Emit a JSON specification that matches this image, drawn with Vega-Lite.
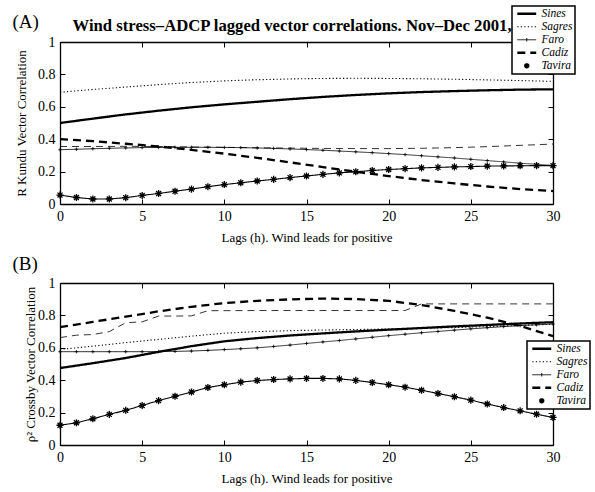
{
  "$schema": "https://vega.github.io/schema/vega-lite/v6.json",
  "padding": {"left": 12, "top": 5, "right": 2, "bottom": 2},
  "config": {
    "font": "Liberation Serif",
    "view": {"stroke": null},
    "axis": {
      "grid": false, "domainColor": "black", "domainWidth": 1.3,
      "tickColor": "black", "tickWidth": 1, "tickSize": -5,
      "labelFont": "Liberation Serif", "labelFontSize": 14, "labelColor": "black",
      "labelPadding": 10, "labelFlush": false, "labelOverlap": false,
      "titleFont": "Liberation Serif", "titleFontSize": 13, "titleFontWeight": "normal", "titleColor": "black"
    },
    "concat": {"spacing": 10}
  },
  "datasets": {
    "kundu": [
      {"station": "Sines", "lag": 0, "r": 0.500}, {"station": "Sines", "lag": 2, "r": 0.527}, {"station": "Sines", "lag": 4, "r": 0.553}, {"station": "Sines", "lag": 6, "r": 0.576},
      {"station": "Sines", "lag": 8, "r": 0.597}, {"station": "Sines", "lag": 10, "r": 0.615}, {"station": "Sines", "lag": 12, "r": 0.631}, {"station": "Sines", "lag": 14, "r": 0.647},
      {"station": "Sines", "lag": 16, "r": 0.661}, {"station": "Sines", "lag": 18, "r": 0.673}, {"station": "Sines", "lag": 20, "r": 0.683}, {"station": "Sines", "lag": 22, "r": 0.691},
      {"station": "Sines", "lag": 24, "r": 0.697}, {"station": "Sines", "lag": 26, "r": 0.702}, {"station": "Sines", "lag": 28, "r": 0.706}, {"station": "Sines", "lag": 30, "r": 0.708},

      {"station": "Sagres", "lag": 0, "r": 0.690}, {"station": "Sagres", "lag": 2, "r": 0.707}, {"station": "Sagres", "lag": 4, "r": 0.722}, {"station": "Sagres", "lag": 6, "r": 0.737},
      {"station": "Sagres", "lag": 8, "r": 0.750}, {"station": "Sagres", "lag": 10, "r": 0.760}, {"station": "Sagres", "lag": 12, "r": 0.767}, {"station": "Sagres", "lag": 14, "r": 0.772},
      {"station": "Sagres", "lag": 16, "r": 0.775}, {"station": "Sagres", "lag": 18, "r": 0.776}, {"station": "Sagres", "lag": 20, "r": 0.775}, {"station": "Sagres", "lag": 22, "r": 0.773},
      {"station": "Sagres", "lag": 24, "r": 0.770}, {"station": "Sagres", "lag": 26, "r": 0.766}, {"station": "Sagres", "lag": 28, "r": 0.762}, {"station": "Sagres", "lag": 30, "r": 0.757},

      {"station": "Faro", "lag": 0, "r": 0.335}, {"station": "Faro", "lag": 1, "r": 0.338}, {"station": "Faro", "lag": 2, "r": 0.341}, {"station": "Faro", "lag": 3, "r": 0.344},
      {"station": "Faro", "lag": 4, "r": 0.346}, {"station": "Faro", "lag": 5, "r": 0.348}, {"station": "Faro", "lag": 6, "r": 0.349}, {"station": "Faro", "lag": 7, "r": 0.350},
      {"station": "Faro", "lag": 8, "r": 0.350}, {"station": "Faro", "lag": 9, "r": 0.350}, {"station": "Faro", "lag": 10, "r": 0.349}, {"station": "Faro", "lag": 11, "r": 0.348},
      {"station": "Faro", "lag": 12, "r": 0.346}, {"station": "Faro", "lag": 13, "r": 0.343}, {"station": "Faro", "lag": 14, "r": 0.340}, {"station": "Faro", "lag": 15, "r": 0.336},
      {"station": "Faro", "lag": 16, "r": 0.332}, {"station": "Faro", "lag": 17, "r": 0.327}, {"station": "Faro", "lag": 18, "r": 0.322}, {"station": "Faro", "lag": 19, "r": 0.317},
      {"station": "Faro", "lag": 20, "r": 0.311}, {"station": "Faro", "lag": 21, "r": 0.305}, {"station": "Faro", "lag": 22, "r": 0.298}, {"station": "Faro", "lag": 23, "r": 0.291},
      {"station": "Faro", "lag": 24, "r": 0.284}, {"station": "Faro", "lag": 25, "r": 0.276}, {"station": "Faro", "lag": 26, "r": 0.268}, {"station": "Faro", "lag": 27, "r": 0.260},
      {"station": "Faro", "lag": 28, "r": 0.252}, {"station": "Faro", "lag": 29, "r": 0.245}, {"station": "Faro", "lag": 30, "r": 0.238},

      {"station": "Cadiz", "lag": 0, "r": 0.400}, {"station": "Cadiz", "lag": 2, "r": 0.388}, {"station": "Cadiz", "lag": 4, "r": 0.372}, {"station": "Cadiz", "lag": 6, "r": 0.355},
      {"station": "Cadiz", "lag": 8, "r": 0.334}, {"station": "Cadiz", "lag": 10, "r": 0.311}, {"station": "Cadiz", "lag": 12, "r": 0.285}, {"station": "Cadiz", "lag": 14, "r": 0.257},
      {"station": "Cadiz", "lag": 16, "r": 0.228}, {"station": "Cadiz", "lag": 18, "r": 0.199}, {"station": "Cadiz", "lag": 20, "r": 0.172}, {"station": "Cadiz", "lag": 22, "r": 0.148},
      {"station": "Cadiz", "lag": 24, "r": 0.127}, {"station": "Cadiz", "lag": 26, "r": 0.108}, {"station": "Cadiz", "lag": 28, "r": 0.092}, {"station": "Cadiz", "lag": 30, "r": 0.080},

      {"station": "Tavira", "lag": 0, "r": 0.055}, {"station": "Tavira", "lag": 1, "r": 0.040}, {"station": "Tavira", "lag": 2, "r": 0.031}, {"station": "Tavira", "lag": 3, "r": 0.031},
      {"station": "Tavira", "lag": 4, "r": 0.039}, {"station": "Tavira", "lag": 5, "r": 0.053}, {"station": "Tavira", "lag": 6, "r": 0.065}, {"station": "Tavira", "lag": 7, "r": 0.079},
      {"station": "Tavira", "lag": 8, "r": 0.092}, {"station": "Tavira", "lag": 9, "r": 0.107}, {"station": "Tavira", "lag": 10, "r": 0.120}, {"station": "Tavira", "lag": 11, "r": 0.131},
      {"station": "Tavira", "lag": 12, "r": 0.142}, {"station": "Tavira", "lag": 13, "r": 0.152}, {"station": "Tavira", "lag": 14, "r": 0.163}, {"station": "Tavira", "lag": 15, "r": 0.173},
      {"station": "Tavira", "lag": 16, "r": 0.183}, {"station": "Tavira", "lag": 17, "r": 0.192}, {"station": "Tavira", "lag": 18, "r": 0.199}, {"station": "Tavira", "lag": 19, "r": 0.207},
      {"station": "Tavira", "lag": 20, "r": 0.213}, {"station": "Tavira", "lag": 21, "r": 0.218}, {"station": "Tavira", "lag": 22, "r": 0.223}, {"station": "Tavira", "lag": 23, "r": 0.226},
      {"station": "Tavira", "lag": 24, "r": 0.229}, {"station": "Tavira", "lag": 25, "r": 0.231}, {"station": "Tavira", "lag": 26, "r": 0.234}, {"station": "Tavira", "lag": 27, "r": 0.235},
      {"station": "Tavira", "lag": 28, "r": 0.236}, {"station": "Tavira", "lag": 29, "r": 0.237}, {"station": "Tavira", "lag": 30, "r": 0.237},

      {"station": "unlabelled", "lag": 0, "r": 0.355}, {"station": "unlabelled", "lag": 2, "r": 0.355}, {"station": "unlabelled", "lag": 4, "r": 0.356}, {"station": "unlabelled", "lag": 6, "r": 0.355},
      {"station": "unlabelled", "lag": 8, "r": 0.352}, {"station": "unlabelled", "lag": 10, "r": 0.350}, {"station": "unlabelled", "lag": 12, "r": 0.347}, {"station": "unlabelled", "lag": 14, "r": 0.345},
      {"station": "unlabelled", "lag": 16, "r": 0.343}, {"station": "unlabelled", "lag": 18, "r": 0.342}, {"station": "unlabelled", "lag": 20, "r": 0.342}, {"station": "unlabelled", "lag": 22, "r": 0.344},
      {"station": "unlabelled", "lag": 24, "r": 0.348}, {"station": "unlabelled", "lag": 26, "r": 0.354}, {"station": "unlabelled", "lag": 28, "r": 0.362}, {"station": "unlabelled", "lag": 30, "r": 0.370}
    ],
    "crossby": [
      {"station": "Sines", "lag": 0, "r": 0.475}, {"station": "Sines", "lag": 2, "r": 0.505}, {"station": "Sines", "lag": 4, "r": 0.537}, {"station": "Sines", "lag": 6, "r": 0.575},
      {"station": "Sines", "lag": 8, "r": 0.610}, {"station": "Sines", "lag": 10, "r": 0.640}, {"station": "Sines", "lag": 12, "r": 0.660}, {"station": "Sines", "lag": 14, "r": 0.676},
      {"station": "Sines", "lag": 16, "r": 0.689}, {"station": "Sines", "lag": 18, "r": 0.701}, {"station": "Sines", "lag": 20, "r": 0.712}, {"station": "Sines", "lag": 22, "r": 0.722},
      {"station": "Sines", "lag": 24, "r": 0.732}, {"station": "Sines", "lag": 26, "r": 0.741}, {"station": "Sines", "lag": 28, "r": 0.750}, {"station": "Sines", "lag": 30, "r": 0.758},

      {"station": "Sagres", "lag": 0, "r": 0.590}, {"station": "Sagres", "lag": 2, "r": 0.610}, {"station": "Sagres", "lag": 4, "r": 0.632}, {"station": "Sagres", "lag": 6, "r": 0.652},
      {"station": "Sagres", "lag": 8, "r": 0.672}, {"station": "Sagres", "lag": 10, "r": 0.690}, {"station": "Sagres", "lag": 12, "r": 0.700}, {"station": "Sagres", "lag": 14, "r": 0.706},
      {"station": "Sagres", "lag": 16, "r": 0.710}, {"station": "Sagres", "lag": 18, "r": 0.713}, {"station": "Sagres", "lag": 20, "r": 0.716}, {"station": "Sagres", "lag": 22, "r": 0.720},
      {"station": "Sagres", "lag": 24, "r": 0.725}, {"station": "Sagres", "lag": 26, "r": 0.731}, {"station": "Sagres", "lag": 28, "r": 0.738}, {"station": "Sagres", "lag": 30, "r": 0.745},

      {"station": "Faro", "lag": 0, "r": 0.576}, {"station": "Faro", "lag": 1, "r": 0.576}, {"station": "Faro", "lag": 2, "r": 0.576}, {"station": "Faro", "lag": 3, "r": 0.576},
      {"station": "Faro", "lag": 4, "r": 0.576}, {"station": "Faro", "lag": 5, "r": 0.576}, {"station": "Faro", "lag": 6, "r": 0.577}, {"station": "Faro", "lag": 7, "r": 0.578},
      {"station": "Faro", "lag": 8, "r": 0.580}, {"station": "Faro", "lag": 9, "r": 0.584}, {"station": "Faro", "lag": 10, "r": 0.589}, {"station": "Faro", "lag": 11, "r": 0.594},
      {"station": "Faro", "lag": 12, "r": 0.600}, {"station": "Faro", "lag": 13, "r": 0.608}, {"station": "Faro", "lag": 14, "r": 0.617}, {"station": "Faro", "lag": 15, "r": 0.627},
      {"station": "Faro", "lag": 16, "r": 0.636}, {"station": "Faro", "lag": 17, "r": 0.645}, {"station": "Faro", "lag": 18, "r": 0.655}, {"station": "Faro", "lag": 19, "r": 0.665},
      {"station": "Faro", "lag": 20, "r": 0.675}, {"station": "Faro", "lag": 21, "r": 0.684}, {"station": "Faro", "lag": 22, "r": 0.693}, {"station": "Faro", "lag": 23, "r": 0.701},
      {"station": "Faro", "lag": 24, "r": 0.709}, {"station": "Faro", "lag": 25, "r": 0.717}, {"station": "Faro", "lag": 26, "r": 0.724}, {"station": "Faro", "lag": 27, "r": 0.731},
      {"station": "Faro", "lag": 28, "r": 0.737}, {"station": "Faro", "lag": 29, "r": 0.742}, {"station": "Faro", "lag": 30, "r": 0.747},

      {"station": "Cadiz", "lag": 0, "r": 0.728}, {"station": "Cadiz", "lag": 2, "r": 0.760}, {"station": "Cadiz", "lag": 4, "r": 0.792}, {"station": "Cadiz", "lag": 6, "r": 0.825},
      {"station": "Cadiz", "lag": 8, "r": 0.853}, {"station": "Cadiz", "lag": 10, "r": 0.876}, {"station": "Cadiz", "lag": 12, "r": 0.890}, {"station": "Cadiz", "lag": 14, "r": 0.899},
      {"station": "Cadiz", "lag": 16, "r": 0.904}, {"station": "Cadiz", "lag": 18, "r": 0.901}, {"station": "Cadiz", "lag": 20, "r": 0.890}, {"station": "Cadiz", "lag": 22, "r": 0.864},
      {"station": "Cadiz", "lag": 24, "r": 0.828}, {"station": "Cadiz", "lag": 26, "r": 0.786}, {"station": "Cadiz", "lag": 28, "r": 0.735}, {"station": "Cadiz", "lag": 30, "r": 0.672},

      {"station": "Tavira", "lag": 0, "r": 0.122}, {"station": "Tavira", "lag": 1, "r": 0.137}, {"station": "Tavira", "lag": 2, "r": 0.162}, {"station": "Tavira", "lag": 3, "r": 0.189},
      {"station": "Tavira", "lag": 4, "r": 0.214}, {"station": "Tavira", "lag": 5, "r": 0.244}, {"station": "Tavira", "lag": 6, "r": 0.274}, {"station": "Tavira", "lag": 7, "r": 0.301},
      {"station": "Tavira", "lag": 8, "r": 0.327}, {"station": "Tavira", "lag": 9, "r": 0.355}, {"station": "Tavira", "lag": 10, "r": 0.372}, {"station": "Tavira", "lag": 11, "r": 0.388},
      {"station": "Tavira", "lag": 12, "r": 0.398}, {"station": "Tavira", "lag": 13, "r": 0.404}, {"station": "Tavira", "lag": 14, "r": 0.408}, {"station": "Tavira", "lag": 15, "r": 0.411},
      {"station": "Tavira", "lag": 16, "r": 0.411}, {"station": "Tavira", "lag": 17, "r": 0.408}, {"station": "Tavira", "lag": 18, "r": 0.399}, {"station": "Tavira", "lag": 19, "r": 0.386},
      {"station": "Tavira", "lag": 20, "r": 0.372}, {"station": "Tavira", "lag": 21, "r": 0.357}, {"station": "Tavira", "lag": 22, "r": 0.338}, {"station": "Tavira", "lag": 23, "r": 0.318},
      {"station": "Tavira", "lag": 24, "r": 0.298}, {"station": "Tavira", "lag": 25, "r": 0.277}, {"station": "Tavira", "lag": 26, "r": 0.253}, {"station": "Tavira", "lag": 27, "r": 0.231},
      {"station": "Tavira", "lag": 28, "r": 0.211}, {"station": "Tavira", "lag": 29, "r": 0.190}, {"station": "Tavira", "lag": 30, "r": 0.170},

      {"station": "unlabelled", "lag": 0, "r": 0.663}, {"station": "unlabelled", "lag": 1, "r": 0.678}, {"station": "unlabelled", "lag": 2, "r": 0.682}, {"station": "unlabelled", "lag": 3, "r": 0.700},
      {"station": "unlabelled", "lag": 4, "r": 0.755}, {"station": "unlabelled", "lag": 5, "r": 0.760}, {"station": "unlabelled", "lag": 6, "r": 0.796}, {"station": "unlabelled", "lag": 7, "r": 0.796},
      {"station": "unlabelled", "lag": 8, "r": 0.797}, {"station": "unlabelled", "lag": 9, "r": 0.829}, {"station": "unlabelled", "lag": 12, "r": 0.830}, {"station": "unlabelled", "lag": 15, "r": 0.830},
      {"station": "unlabelled", "lag": 18, "r": 0.830}, {"station": "unlabelled", "lag": 21, "r": 0.830}, {"station": "unlabelled", "lag": 22, "r": 0.871}, {"station": "unlabelled", "lag": 25, "r": 0.871},
      {"station": "unlabelled", "lag": 28, "r": 0.871}, {"station": "unlabelled", "lag": 30, "r": 0.871}
    ]
  },
  "vconcat": [
    {
      "width": 493,
      "height": 162,
      "data": {"name": "kundu"},
      "layer": [
        {
          "mark": {"type": "line", "color": "black", "strokeCap": "butt", "strokeJoin": "round"},
          "encoding": {
            "x": {"field": "lag", "type": "quantitative", "scale": {"domain": [0, 30], "nice": false},
                  "axis": {"orient": "bottom", "values": [0, 5, 10, 15, 20, 25, 30], "title": "Lags (h). Wind leads for positive", "titlePadding": 8}},
            "y": {"field": "r", "type": "quantitative", "scale": {"domain": [0, 1], "nice": false},
                  "axis": {"orient": "left", "values": [0, 0.2, 0.4, 0.6, 0.8, 1], "format": "~g", "title": "R Kundu Vector Correlation", "titlePadding": 9}},
            "detail": {"field": "station"},
            "strokeDash": {
              "field": "station", "type": "nominal",
              "scale": {"domain": ["Sines", "Sagres", "Faro", "Cadiz", "Tavira", "unlabelled"],
                        "range": [[1, 0], [1.2, 2.3], [1, 0], [8, 5], [1, 0], [7, 5]]},
              "legend": {
                "values": ["Sines", "Sagres", "Faro", "Cadiz", "Tavira"],
                "orient": "none", "legendX": 452, "legendY": -36, "title": null,
                "fillColor": "white", "strokeColor": "black", "padding": 2, "rowPadding": 0,
                "symbolSize": 49, "symbolOffset": 7, "symbolStrokeColor": "black", "symbolType": "stroke",
                "labelFont": "Liberation Serif", "labelFontStyle": "italic", "labelFontSize": 11.5, "labelColor": "black", "labelOffset": 9,
                "zindex": 5,
                "encode": {
                  "legend": {"update": {"strokeWidth": {"value": 1.5}}},
                  "symbols": {"update": {
                    "shape": {"signal": "datum.value === 'Tavira' ? 'M-0.75,0L0.75,0M0,-0.75L0,0.75M-0.53,-0.53L0.53,0.53M-0.53,0.53L0.53,-0.53' : datum.value === 'Faro' ? 'M-2.7,0L2.7,0M0,-0.5L0,0.5' : 'M-2.7,0L2.7,0'"},
                    "strokeWidth": {"signal": "datum.value === 'Sines' ? 2.3 : datum.value === 'Cadiz' ? 2.6 : datum.value === 'Tavira' ? 1.8 : datum.value === 'Faro' ? 0.9 : 1.2"}
                  }}
                }
              }
            },
            "strokeWidth": {
              "condition": [
                {"test": "datum.station === 'Sines' || datum.station === 'Cadiz'", "value": 2.3},
                {"test": "datum.station === 'Faro' || datum.station === 'unlabelled'", "value": 0.8}
              ],
              "value": 1.1
            }
          }
        },
        {
          "transform": [{"filter": "datum.station === 'Faro'"}],
          "mark": {"type": "point", "shape": "M-1,0L1,0M0,-1L0,1", "size": 12, "filled": false, "stroke": "black", "strokeWidth": 0.8, "opacity": 1},
          "encoding": {
            "x": {"field": "lag", "type": "quantitative",
                  "axis": {"orient": "top", "values": [0, 5, 10, 15, 20, 25, 30], "labels": false, "title": "(A)",
                           "titleX": -48, "titleY": -15, "titleAlign": "left", "titleAnchor": "start", "titleBaseline": "alphabetic",
                           "titleAngle": 0, "titleFontSize": 19}},
            "y": {"field": "r", "type": "quantitative",
                  "axis": {"orient": "right", "values": [0, 0.2, 0.4, 0.6, 0.8, 1], "labels": false, "title": null}}
          }
        },
        {
          "transform": [{"filter": "datum.station === 'Tavira'"}],
          "mark": {"type": "point", "shape": "M-1,0L1,0M0,-1L0,1M-0.7,-0.7L0.7,0.7M-0.7,0.7L0.7,-0.7", "size": 50, "filled": false, "stroke": "black", "strokeWidth": 1.3, "opacity": 1},
          "encoding": {
            "x": {"field": "lag", "type": "quantitative",
                  "axis": {"orient": "top", "ticks": false, "labels": false, "domain": false,
                           "title": "Wind stress–ADCP lagged vector correlations. Nov–Dec 2001,",
                           "titleX": 12, "titleY": -12, "titleAlign": "left", "titleAnchor": "start", "titleBaseline": "alphabetic",
                           "titleAngle": 0, "titleFontSize": 16.7, "titleFontWeight": "bold"}},
            "y": {"field": "r", "type": "quantitative", "axis": null}
          }
        }
      ],
      "resolve": {"axis": {"x": "independent", "y": "independent"}}
    },
    {
      "width": 493,
      "height": 162,
      "data": {"name": "crossby"},
      "layer": [
        {
          "mark": {"type": "line", "color": "black", "strokeCap": "butt", "strokeJoin": "round"},
          "encoding": {
            "x": {"field": "lag", "type": "quantitative", "scale": {"domain": [0, 30], "nice": false},
                  "axis": {"orient": "bottom", "values": [0, 5, 10, 15, 20, 25, 30], "title": "Lags (h). Wind leads for positive", "titlePadding": 8}},
            "y": {"field": "r", "type": "quantitative", "scale": {"domain": [0, 1], "nice": false},
                  "axis": {"orient": "left", "values": [0, 0.2, 0.4, 0.6, 0.8, 1], "format": "~g", "title": "ρ² Crossby Vector Correlation", "titlePadding": 0}},
            "detail": {"field": "station"},
            "strokeDash": {
              "field": "station", "type": "nominal",
              "scale": {"domain": ["Sines", "Sagres", "Faro", "Cadiz", "Tavira", "unlabelled"],
                        "range": [[1, 0], [1.2, 2.3], [1, 0], [8, 5], [1, 0], [7, 5]]},
              "legend": {
                "values": ["Sines", "Sagres", "Faro", "Cadiz", "Tavira"],
                "orient": "none", "legendX": 467, "legendY": 58, "title": null,
                "fillColor": "white", "strokeColor": "black", "padding": 2, "rowPadding": 0,
                "symbolSize": 49, "symbolOffset": 7, "symbolStrokeColor": "black", "symbolType": "stroke",
                "labelFont": "Liberation Serif", "labelFontStyle": "italic", "labelFontSize": 11.5, "labelColor": "black", "labelOffset": 9,
                "zindex": 5,
                "encode": {
                  "legend": {"update": {"strokeWidth": {"value": 1.5}}},
                  "symbols": {"update": {
                    "shape": {"signal": "datum.value === 'Tavira' ? 'M-0.75,0L0.75,0M0,-0.75L0,0.75M-0.53,-0.53L0.53,0.53M-0.53,0.53L0.53,-0.53' : datum.value === 'Faro' ? 'M-2.7,0L2.7,0M0,-0.5L0,0.5' : 'M-2.7,0L2.7,0'"},
                    "strokeWidth": {"signal": "datum.value === 'Sines' ? 2.3 : datum.value === 'Cadiz' ? 2.6 : datum.value === 'Tavira' ? 1.8 : datum.value === 'Faro' ? 0.9 : 1.2"}
                  }}
                }
              }
            },
            "strokeWidth": {
              "condition": [
                {"test": "datum.station === 'Sines' || datum.station === 'Cadiz'", "value": 2.3},
                {"test": "datum.station === 'Faro' || datum.station === 'unlabelled'", "value": 0.8}
              ],
              "value": 1.1
            }
          }
        },
        {
          "transform": [{"filter": "datum.station === 'Faro'"}],
          "mark": {"type": "point", "shape": "M-1,0L1,0M0,-1L0,1", "size": 12, "filled": false, "stroke": "black", "strokeWidth": 0.8, "opacity": 1},
          "encoding": {
            "x": {"field": "lag", "type": "quantitative",
                  "axis": {"orient": "top", "values": [0, 5, 10, 15, 20, 25, 30], "labels": false, "title": "(B)",
                           "titleX": -48, "titleY": -14, "titleAlign": "left", "titleAnchor": "start", "titleBaseline": "alphabetic",
                           "titleAngle": 0, "titleFontSize": 19}},
            "y": {"field": "r", "type": "quantitative",
                  "axis": {"orient": "right", "values": [0, 0.2, 0.4, 0.6, 0.8, 1], "labels": false, "title": null}}
          }
        },
        {
          "transform": [{"filter": "datum.station === 'Tavira'"}],
          "mark": {"type": "point", "shape": "M-1,0L1,0M0,-1L0,1M-0.7,-0.7L0.7,0.7M-0.7,0.7L0.7,-0.7", "size": 50, "filled": false, "stroke": "black", "strokeWidth": 1.3, "opacity": 1},
          "encoding": {
            "x": {"field": "lag", "type": "quantitative", "axis": null},
            "y": {"field": "r", "type": "quantitative", "axis": null}
          }
        }
      ],
      "resolve": {"axis": {"x": "independent", "y": "independent"}}
    }
  ],
  "resolve": {"scale": {"strokeDash": "independent"}, "legend": {"strokeDash": "independent"}}
}
